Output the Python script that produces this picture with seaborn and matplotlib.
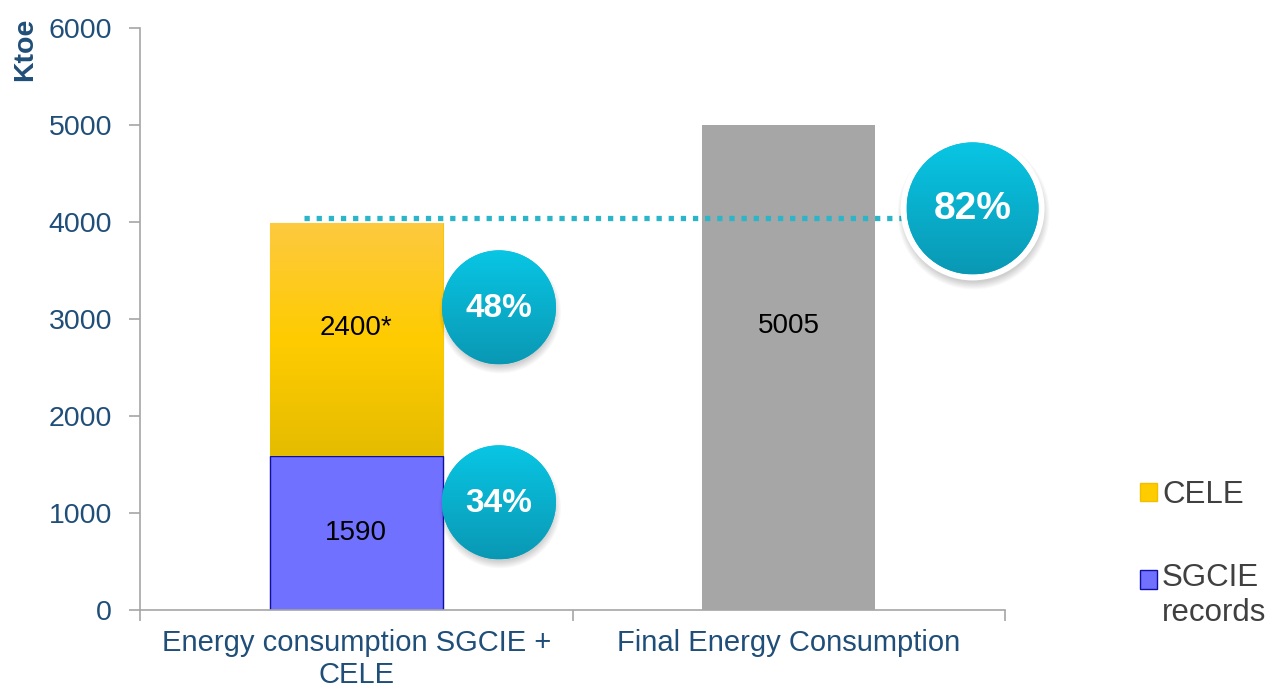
import numpy as np
import pandas as pd
import matplotlib
matplotlib.use('Agg')
import matplotlib.pyplot as plt
from matplotlib.patches import Circle, Patch
from matplotlib.colors import LinearSegmentedColormap
import seaborn as sns

# data
categories = ['Energy consumption SGCIE +\nCELE', 'Final Energy Consumption']
sgcie_records = [1590]
cele = [2400]
final_energy = [5005]
bar_labels = ['1590', '2400*', '5005']
share_labels = ['48%', '34%', '82%']
yticks = [0, 1000, 2000, 3000, 4000, 5000, 6000]

sns.set_style('white')
plt.rcParams['font.family'] = ['Liberation Sans', 'DejaVu Sans']

W, H = 1272, 690
fig = plt.figure(figsize=(W / 100, H / 100), dpi=100)
ax = fig.add_axes([140 / W, 80 / H, 865 / W, 582 / H])

stack_total = [s + c for s, c in zip(sgcie_records, cele)]
df_stack = pd.DataFrame({'cat': categories[:1], 'total': stack_total, 'sgcie': sgcie_records})
df_final = pd.DataFrame({'cat': categories[1:], 'value': final_energy})

sns.barplot(data=df_stack, x='cat', y='total', order=categories, color='#FFCC00', width=0.4,
            saturation=1, errorbar=None, edgecolor='#F5C800', linewidth=0.8, ax=ax)
yellow = ax.patches[-1]
sns.barplot(data=df_stack, x='cat', y='sgcie', order=categories, color='#7171FF', width=0.4,
            saturation=1, errorbar=None, edgecolor='#1010A0', linewidth=1.0, ax=ax)
sns.barplot(data=df_final, x='cat', y='value', order=categories, color='#A6A6A6', width=0.4,
            saturation=1, errorbar=None, linewidth=0, ax=ax)

# gradient on the CELE part
ycmap = LinearSegmentedColormap.from_list('yel', ['#E5BC00', '#FFCC00', '#FDC940'])
x0, w = yellow.get_x(), yellow.get_width()
im = ax.imshow(np.linspace(0, 1, 256).reshape(-1, 1), cmap=ycmap, origin='lower', aspect='auto',
               extent=[x0, x0 + w, sgcie_records[0], stack_total[0]], zorder=yellow.get_zorder())
im.set_clip_path(yellow)

ax.set_xlim(-0.5, 1.5)
ax.set_ylim(0, 6000)

# value labels
ax.text(0, sgcie_records[0] / 2, bar_labels[0], ha='center', va='center', fontsize=20, color='black')
ax.text(0, 2910, bar_labels[1], ha='center', va='center', fontsize=20, color='black', zorder=5)
ax.text(1, 2930, bar_labels[2], ha='center', va='center', fontsize=20, color='black')

# dotted reference line
ax.plot([-0.12, 1.27], [stack_total[0] + 50] * 2, color='#2BB5C8', lw=3.8,
        linestyle=(0, (1, 1.3)), dash_capstyle='butt', zorder=3)

# axes styling
sns.despine(ax=ax)
for s in ['left', 'bottom']:
    ax.spines[s].set_color('#A6A6A6')
    ax.spines[s].set_linewidth(1.2)
ax.set_yticks(yticks)
ax.tick_params(axis='y', left=True, length=8, width=1.2, color='#A6A6A6', pad=12,
               labelsize=20.5, labelcolor='#1F4E79')
ax.set_xticks([-0.5, 0.5, 1.5], ['', '', ''])
ax.set_xticks([0, 1], categories, minor=True)
ax.tick_params(axis='x', which='major', bottom=True, length=8, width=1.2, color='#A6A6A6')
ax.tick_params(axis='x', which='minor', bottom=True, length=0, pad=14, labelsize=21,
               labelcolor='#1F4E79')
for t in ax.get_xticklabels(minor=True):
    t.set_linespacing(1.15)
ax.set_xlabel('')
ax.set_ylabel('Ktoe', fontsize=20.5, fontweight='bold', color='#1F4E79', loc='top')
ax.yaxis.set_label_coords(-0.118, 1.017)

# share bubbles drawn in pixel space
ov = fig.add_axes([0, 0, 1, 1], zorder=5)
ov.set_xlim(0, W)
ov.set_ylim(0, H)
ov.axis('off')
ccmap = LinearSegmentedColormap.from_list('cy', ['#0A98B4', '#08C6E4'])
bubbles = [((0.33, 3120), 57, 0, 24), ((0.33, 1110), 57, 0, 24), ((1.425, 4140), 66, 6, 28)]
for lab, ((bx, by), r, ring, fs) in zip(share_labels, bubbles):
    cx, cy = ax.transData.transform((bx, by))
    R = r + ring
    for k in range(8):
        ov.add_patch(Circle((cx + 1, cy - 5), R + 4 - k, color='black', alpha=0.025, lw=0))
    if ring:
        ov.add_patch(Circle((cx, cy), R, color='white', lw=0))
    c = Circle((cx, cy), r, facecolor='#08B4D2', edgecolor='none')
    ov.add_patch(c)
    g = ov.imshow(np.linspace(0, 1, 256).reshape(-1, 1), cmap=ccmap, origin='lower', aspect='auto',
                  extent=[cx - r, cx + r, cy - r, cy + r], zorder=2)
    g.set_clip_path(c)
    ov.text(cx, cy - 1, lab, ha='center', va='center', fontsize=fs, fontweight='bold', color='white', zorder=3)
ov.set_xlim(0, W)
ov.set_ylim(0, H)

# legend
handles = [Patch(facecolor='#FFCC00', edgecolor='#F0C000'), Patch(facecolor='#7171FF', edgecolor='#1010A0')]
leg = fig.legend(handles, ['CELE', 'SGCIE\nrecords'], loc='upper left', bbox_to_anchor=(1140 / W, 1 - 480 / H),
                 frameon=False, fontsize=22.5, labelcolor='#404040', handlelength=0.55, handleheight=0.55,
                 handletextpad=0.15, labelspacing=1.7, borderaxespad=0, borderpad=0)
# put the SGCIE marker next to the first line of its label
hb = leg.legend_handles[1]
hb.set_y(hb.get_y() + 12)

fig.savefig('out.png', dpi=100, facecolor='white')
